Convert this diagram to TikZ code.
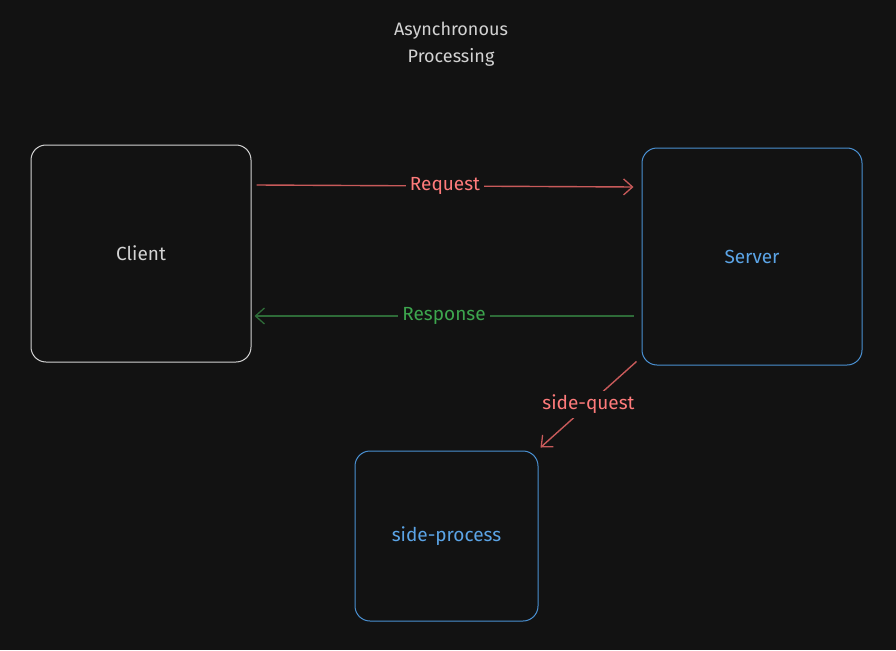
\documentclass[tikz,border=0pt]{standalone}
\usepackage{fontspec}
\setmainfont{Fira Sans}
\usetikzlibrary{arrows.meta, positioning, calc}
\definecolor{canvasbg}{HTML}{121212}
\definecolor{sketchgray}{HTML}{D3D3D3}
\definecolor{sketchblue}{HTML}{4A90D2}
\definecolor{textblue}{HTML}{5BA4E6}
\definecolor{linered}{HTML}{C85A5A}
\definecolor{textred}{HTML}{FF7B7B}
\definecolor{linegreen}{HTML}{2E6B38}
\definecolor{textgreen}{HTML}{3DA64E}

\tikzset{
  sketchbox/.style={draw, line width=1pt, rounded corners=15pt, fill=canvasbg, font=\fontsize{19}{22}\selectfont},
  flowline/.style={line width=1.4pt, -{Straight Barb[length=9pt, width=16pt, line width=1.3pt]}},
  flowlabel/.style={fill=canvasbg, inner sep=4pt, font=\fontsize{19}{22}\selectfont}
}

\begin{document}
\begin{tikzpicture}[x=1pt, y=-1pt]
  \useasboundingbox[fill=canvasbg] (0,0) rectangle (896,650);

  % title
  \node[text=sketchgray, align=center, font=\fontsize{18}{27}\selectfont] (title) at (451,44) {Asynchronous\\Processing};

  % boxes
  \node[sketchbox, draw=sketchgray, text=sketchgray, minimum width=220pt, minimum height=217pt] (client) at (141,253.5) {Client};
  \node[sketchbox, draw=sketchblue, text=textblue, minimum width=220pt, minimum height=217pt] (server) at (752,256.5) {Server};
  \node[sketchbox, draw=sketchblue, text=textblue, minimum width=183pt, minimum height=170pt] (sideproc) at (446.5,536) {side-process};

  % connectors
  \draw[flowline, linered] ([yshift=68.5pt, xshift=5pt]client.east) -- ([yshift=69.5pt, xshift=-8pt]server.west)
    node[flowlabel, text=textred, pos=0.5] (reqlabel) {Request};
  \draw[flowline, linegreen] ([yshift=-59.5pt, xshift=-8pt]server.west) -- ([yshift=-62.5pt, xshift=3pt]client.east)
    node[flowlabel, text=textgreen, pos=0.5] (resplabel) {Response};
  \draw[flowline, linered] ([xshift=-5pt, yshift=4pt]server.south west) -- ([xshift=2pt, yshift=3pt]sideproc.north east)
    node[flowlabel, text=textred, pos=0.5] (sidelabel) {side-quest};
\end{tikzpicture}
\end{document}
